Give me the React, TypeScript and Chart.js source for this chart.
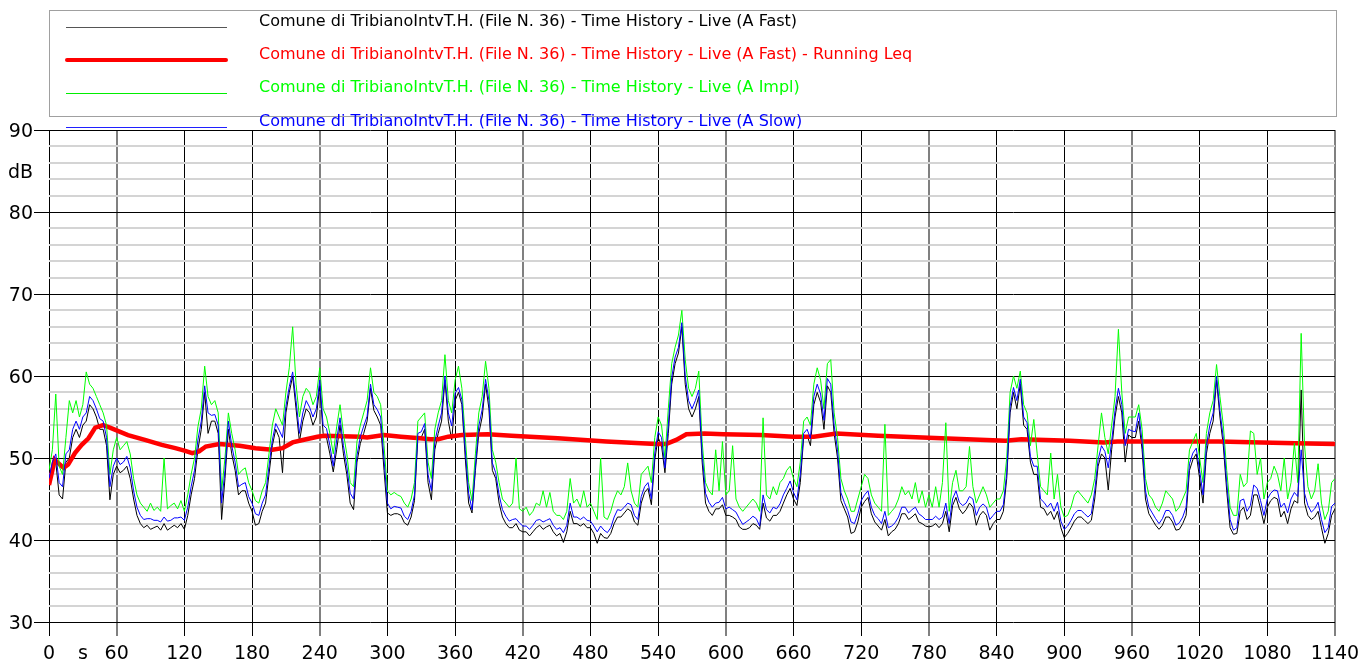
import { useEffect, useRef } from 'react';
import { Chart, registerables } from 'chart.js';

Chart.register(...registerables);

const STEP_S = 3;
const X_MAX = 1140;

const slowDb = [
  47.5, 49.5, 50.5, 47, 46.5, 50.5, 51, 53.5, 54.5, 53.5, 55, 55.5, 57.5, 57, 56, 54.8, 54.5, 52.5, 46.5, 49, 50, 49.2, 49.5, 50.2, 48.8, 46, 44, 43, 42.5, 42.6, 42.6, 42.4, 42.4, 42.2, 42.8, 42.3, 42.4,
  42.7, 42.7, 42.8, 42.4, 44, 46.5, 48.5, 52.2, 54.5, 58.8, 55.5, 55.2, 55.3, 54, 44.5, 48.5, 54.5, 51.5, 49.5, 46.5, 46.8, 47, 45.3, 44.5, 43.2, 43, 44.5, 45.5, 49, 52.2, 54.2, 53.4, 52.5, 56.3, 58.7, 60.5, 57, 53,
  55.5, 57, 56.2, 55, 56, 59.5, 54, 53.6, 51.5, 49, 52.2, 54.9, 51.5, 49, 45.7, 45, 50.3, 52.6, 53.9, 55.1, 59, 56.5, 55.9, 55, 49.8, 44.5, 43.8, 44.1, 44, 43.9, 42.9, 42.5, 43.5, 45.5, 53, 53.2, 54.2, 48,
  46, 52, 53.9, 55.5, 60, 55.5, 53.9, 57.9, 58.6, 57.1, 51, 45.7, 43.7, 49, 53.9, 55.9, 59.6, 57, 49.4, 48.2, 45.5, 43.7, 42.9, 42.3, 42.5, 42.6, 42.1, 41.7, 41.7, 41.3, 41.8, 42.4, 42.5, 42.2, 42.4, 42.6, 41.8, 41.3,
  41.5, 40.9, 41.8, 44.5, 42.8, 42.8, 42.5, 42.8, 42.4, 42.3, 41.7, 41.0, 41.7, 41.2, 40.9, 41.5, 42.8, 43.7, 43.6, 44, 44.5, 44.3, 43, 42.5, 45.3, 46.5, 47, 45, 50.6, 53.2, 52.5, 48.8, 54, 59.8, 62.3, 63.5, 66.5,
  60, 57, 56, 57, 58.3, 50.5, 45.7, 44.6, 44, 44.5, 44.6, 45.2, 43.8, 44, 43.7, 43.4, 42.6, 41.9, 42.2, 42.5, 42.9, 42.6, 41.7, 45.5, 43.7, 43.3, 44, 43.8, 44.4, 45.5, 46.3, 47.2, 45.8, 44.9, 48, 53, 53.5, 52.4, 57.5,
  59, 57.8, 54.6, 59.7, 59, 54, 51, 45.8, 44.6, 43.6, 42.2, 42.0, 43.2, 44.8, 45.5, 46, 44, 43, 42.6, 42, 43.5, 41.5, 41.7, 42.1, 42.8, 44, 44, 43.3, 43.7, 44, 43.2, 42.9, 42.5, 42.5, 42.5, 42.9, 42.5, 42.8,
  44.5, 42, 45, 46, 44.6, 44.2, 44.5, 45.3, 45, 43, 44, 44.4, 44, 42.5, 43, 43.5, 43.5, 44.3, 48.2, 56.3, 58.6, 57, 59.6, 55, 54.3, 50.2, 49, 49, 45, 44.6, 44, 44.5, 43.5, 44.6, 42.3, 41.3, 41.7,
  42.4, 43.2, 43.6, 43.6, 43.2, 42.8, 43.2, 46, 49.8, 51.5, 50.8, 48.8, 52, 55.8, 58.5, 56.5, 51.5, 53.5, 53.3, 53.2, 55.5, 52, 46, 44, 43.3, 42.6, 42, 42.6, 43.6, 43.6, 43, 41.8, 42.1, 42.8, 44, 49.3, 50.6, 51.2,
  48.5, 45.5, 51.5, 54, 55.5, 60, 55.8, 52.4, 47, 42.5, 41.2, 41.5, 44.8, 45, 43.5, 44.2, 46.7, 46.3, 44.8, 43, 45, 45.7, 46.1, 46, 44, 44.5, 43.3, 45, 45.8, 45.3, 51, 45.7, 44.2, 43.4, 43.8, 44.6, 42.5, 40.9, 41.5, 44.1, 44.5,
];

const implDb = [
  48.5, 51, 57.8, 49, 48, 52.5, 57, 55.5, 57, 55, 56.5, 60.5, 59, 58.5, 57.5, 56.5, 55.5, 54, 48, 51, 52.5, 51, 51.5, 52, 50.5, 47.5, 45.5, 44.5, 44, 43.5, 44.5, 43.6, 44, 43.5, 50, 43.8, 44.2,
  44.5, 43.8, 44.8, 43.5, 45.5, 48, 50, 53.8, 56, 61.2, 57.5, 56.5, 57, 55.5, 46, 50, 55.5, 53, 51, 48, 48.5, 48.8, 47, 46, 44.8, 44.5, 46, 47, 50.5, 54, 56, 55, 54, 58, 61, 66, 59, 55,
  57.5, 58.5, 58, 56.5, 57.5, 61, 56, 55, 53, 50.5, 53.8, 56.5, 53, 50.5, 47, 46.5, 52, 54, 55.5, 57, 61, 58, 57.5, 56.5, 51.5, 46, 45.5, 45.8, 45.5, 45.3, 44.5, 44, 45, 47, 54.5, 55, 55.5, 49.5,
  47.5, 53.5, 55.5, 57, 62.6, 57, 55.5, 59.5, 61.2, 58.5, 52.5, 47, 44.8, 50.5, 55.5, 57.5, 61.8, 58.5, 51, 49.5, 47, 45, 44.5, 44, 44.5, 50, 43.8, 43.5, 44, 43, 43.5, 44.5, 44.2, 46, 44, 45.8, 43.5, 43,
  43, 42.5, 43.5, 47.5, 44.5, 45, 44, 46, 44, 44.5, 43.5, 42.5, 50, 42.8, 42.5, 43.5, 45, 46, 45.5, 46.5, 49.4, 46, 44.5, 44, 48, 48.5, 49, 47, 52.5, 55, 54, 50, 56, 61.5, 63.5, 65, 68,
  62, 58.5, 57.5, 58.5, 60.6, 52, 47, 46, 45.5, 51, 46, 52, 45.5, 46, 51.5, 45, 44, 43.5, 44, 44.5, 45, 44.5, 43.5, 54.9, 45.5, 45, 46.5, 45.5, 47, 47.5, 48.5, 49, 47.5, 46.5, 49.5, 54.5, 55, 54, 59,
  61, 59.5, 56, 61.5, 62, 55.5, 52.5, 47.5, 46, 45, 43.5, 43.5, 45, 46.5, 48, 47.5, 45.5, 44.5, 44, 43.5, 54.1, 43, 43.5, 44, 45, 46.5, 45.5, 46, 45, 47, 44.5, 46, 44, 45.5, 44, 46.5, 44, 47,
  54.3, 43.5, 47, 48.5, 46, 46, 46.5, 51.4, 46.5, 44.5, 45.5, 46.5, 45.5, 44, 44.5, 45, 45, 46, 50, 58, 60, 58.5, 60.6, 56.5, 55.5, 51.5, 54.7, 50.5, 46.5, 46, 45.5, 50.6, 45, 48, 44, 42.8, 43,
  44, 45.5, 46, 45.5, 45, 44.5, 45.5, 47.5, 51.5, 55.5, 52.5, 50.5, 54, 57.5, 65.7, 58, 53, 55, 55, 55, 56.5, 53.5, 47.5, 45.5, 45, 44, 43.5, 44.5, 46, 45.5, 45, 43.5, 44, 45, 46, 51, 52, 53,
  50, 47, 53, 55.5, 57, 61.4, 57.5, 54, 48.5, 44, 43, 43, 48, 46.5, 47, 53.3, 53, 48, 50, 45, 47, 47.5, 49, 48, 46, 50, 45, 47, 51.8, 47, 65.2, 51.6, 46.5, 45, 46, 49.3, 44.5, 42.5, 43.5, 47, 47.5,
];

const fastDb = [
  46.8, 48.5, 49.5, 45.5, 45, 49.5, 50, 52.5, 53.5, 52.5, 54, 54.5, 56.5, 56, 55, 53.5, 53.5, 51.5, 44.9, 48, 49, 48.2, 48.5, 49, 47.5, 45, 43, 42, 41.5, 41.8, 41.3, 41.5, 41.7, 41.2, 42, 41.2, 41.5,
  41.8, 41.5, 42, 41.3, 43, 45.5, 47.5, 51, 53.5, 58, 53, 54.5, 54.5, 53, 42.5, 47.5, 53.5, 50.5, 48.5, 45.5, 46, 46, 44.5, 43.5, 41.8, 42, 43.5, 44.5, 48, 51.5, 53.5, 52.5, 48.2, 55.5, 58, 60, 56, 52,
  54.5, 56, 55.5, 54, 55, 58.8, 53, 52.5, 50.5, 48.3, 51, 54, 50.5, 48, 44.5, 43.7, 49.5, 51.8, 53, 54.5, 58.5, 55.8, 55, 54, 48.5, 43.3, 43, 43.2, 43.2, 43, 42.1, 41.8, 42.8, 44.8, 52.5, 52.5, 53.5, 47,
  44.9, 51, 53, 54.5, 59.5, 54.5, 52.2, 57, 58, 56.5, 50, 44.5, 43.3, 48.5, 53, 55, 59, 56, 48.5, 47.5, 44.5, 42.8, 42, 41.5, 41.5, 42, 41.2, 41, 41, 40.5, 41, 41.5, 41.8, 41.3, 41.6, 41.8, 41, 40.5,
  40.8, 39.7, 41, 43.5, 42, 42, 41.7, 42, 41.5, 41.5, 40.8, 39.6, 40.8, 40.3, 40.2, 40.8, 42, 42.8, 42.8, 43.3, 43.8, 43.5, 42.2, 41.8, 44.5, 45.8, 46.3, 44.3, 49.8, 52.5, 51.5, 48.2, 53, 59, 61.5, 62.8, 66,
  59, 56, 55, 56, 57.5, 49.5, 44.5, 43.5, 43, 43.8, 43.8, 44.3, 43, 43, 42.8, 42.5, 41.6, 41.3, 41.3, 41.5, 42, 41.8, 41.3, 44.5, 42.7, 42.3, 43, 43, 43.5, 44.5, 45.5, 46.3, 45, 44.2, 47, 52.5, 52.8, 51.5, 56.5,
  58, 56.8, 53.5, 58.8, 58, 53, 50, 44.8, 43.8, 42.8, 40.8, 41, 42.2, 44, 44.7, 45.2, 43.2, 42.2, 41.7, 41.2, 42.5, 40.5, 41, 41.3, 42, 43.2, 43.2, 42.5, 42.8, 43.2, 42.2, 42, 41.7, 41.6, 41.7, 42, 41.5, 42,
  43.5, 41, 44.2, 45.2, 43.8, 43.2, 43.7, 44.5, 44, 41.8, 43, 43.5, 43, 41.2, 42, 42.5, 42.5, 43.5, 47.5, 55.5, 58, 56, 59, 54, 53.5, 49.5, 48, 48, 44, 43.8, 43, 43.5, 42.5, 43.5, 41.5, 40.3, 40.8,
  41.5, 42.3, 42.8, 42.8, 42.4, 42, 42.4, 45, 49, 50.5, 50, 46.1, 51, 55, 57.5, 55.5, 49.5, 52.8, 52.5, 52.5, 54.5, 51, 45, 43.2, 42.5, 41.8, 41.3, 41.8, 42.8, 42.8, 42.2, 41.2, 41.3, 42, 43, 48.5, 49.8, 50.5,
  47.5, 44.5, 50.5, 53, 54.5, 59.5, 55, 51.5, 46, 41.5, 40.7, 40.8, 43.5, 44, 42.5, 43, 45.5, 45.5, 43.8, 42, 44, 44.8, 45.2, 45, 42.8, 43.5, 42, 43.8, 44.8, 44.5, 58.3, 44.5, 43, 42.5, 42.8, 43.5, 41.5, 39.6, 40.8, 43, 43.8,
];

const leqTimes = [0, 3, 5, 8, 13, 17, 23, 29, 35, 41, 48, 54, 70, 85, 100, 112, 120, 127, 133, 139, 151, 169, 183, 198, 207, 216, 225, 238, 244, 276, 282, 297, 312, 329, 338, 345, 354, 366, 389, 410, 451, 494, 538, 547, 556, 565, 581, 598, 631, 660, 678, 698, 735, 791, 848, 862, 905, 935, 947, 1018, 1037, 1075, 1105, 1140];
const leqDb = [46.7, 48.5, 49.8, 49.4, 48.8, 49.2, 50.6, 51.6, 52.4, 53.7, 54.0, 53.7, 52.8, 52.2, 51.6, 51.2, 50.9, 50.6, 50.8, 51.4, 51.7, 51.5, 51.2, 51.0, 51.2, 51.9, 52.2, 52.6, 52.7, 52.6, 52.5, 52.8, 52.6, 52.4, 52.3, 52.3, 52.6, 52.8, 52.9, 52.7, 52.4, 52.0, 51.7, 51.7, 52.2, 52.9, 53.0, 52.9, 52.8, 52.6, 52.6, 53.0, 52.7, 52.4, 52.1, 52.3, 52.1, 51.9, 52.0, 52.0, 52.0, 51.9, 51.8, 51.7];

const xTickValues = Array.from({ length: X_MAX / 30 + 1 }, (_, i) => i * 30);
const yTickValues = [30, 32, 34, 36, 38, 40, 42, 44, 46, 48, 50, 52, 54, 56, 58, 60, 62, 64, 66, 68, 70, 72, 74, 76, 78, 80, 82, 84, 85, 86, 88, 90];

const BASE = 'Comune di TribianoIntvT.H. (File N. 36) - Time History - Live';
const seriesLabels = [
  BASE + ' (A Fast)',
  BASE + ' (A Fast) - Running Leq',
  BASE + ' (A Impl)',
  BASE + ' (A Slow)',
];
const seriesColors = ['#000000', '#ff0000', '#00ff00', '#0000ff'];
const legendLineColors = ['#555555', '#ff0000', '#00ee00', '#2020ff'];

const FONT = '"DejaVu Sans", Verdana, sans-serif';

const boxLegend = {
  id: 'boxLegend',
  afterDraw(chart: any) {
    const ctx = chart.ctx as CanvasRenderingContext2D;
    ctx.save();
    ctx.strokeStyle = '#a0a0a0';
    ctx.lineWidth = 1;
    ctx.strokeRect(49.5, 10.5, 1287, 106);
    ctx.font = '16px ' + FONT;
    ctx.textBaseline = 'middle';
    ctx.textAlign = 'left';
    seriesLabels.forEach((label, i) => {
      const ty = 21.5 + i * 33.4;
      const ly = Math.round(ty + 5);
      ctx.fillStyle = legendLineColors[i];
      if (i === 1) {
        ctx.strokeStyle = legendLineColors[i];
        ctx.lineWidth = 4;
        ctx.lineCap = 'round';
        ctx.beginPath();
        ctx.moveTo(67, ly);
        ctx.lineTo(226, ly);
        ctx.stroke();
      } else {
        ctx.fillRect(66, ly, 161, 1);
      }
      ctx.fillStyle = seriesColors[i];
      ctx.fillText(label, 259, ty);
    });
    ctx.restore();
  },
};

export default function App() {
  const ref = useRef<HTMLCanvasElement | null>(null);

  useEffect(() => {
    if (!ref.current) return;
    const times = slowDb.map((_, i) => i * STEP_S);
    const mk = (vals: number[]) => times.map((t, i) => ({ x: t, y: vals[i] }));
    const chart = new Chart(ref.current, {
      type: 'line',
      data: {
        datasets: [
          { label: seriesLabels[0], data: mk(fastDb), borderColor: seriesColors[0], borderWidth: 1, order: 4 },
          { label: seriesLabels[1], data: leqTimes.map((t, i) => ({ x: t, y: leqDb[i] })), borderColor: seriesColors[1], borderWidth: 4.5, order: 3 },
          { label: seriesLabels[2], data: mk(implDb), borderColor: seriesColors[2], borderWidth: 1, order: 2 },
          { label: seriesLabels[3], data: mk(slowDb), borderColor: seriesColors[3], borderWidth: 1, order: 1 },
        ] as any,
      },
      options: {
        animation: false,
        responsive: false,
        devicePixelRatio: 1,
        layout: { padding: { top: 130, right: 25, left: 0, bottom: 0 } },
        elements: { point: { radius: 0 }, line: { tension: 0, fill: false } },
        plugins: { legend: { display: false }, tooltip: { enabled: false } },
        scales: {
          x: {
            type: 'linear',
            min: 0,
            max: X_MAX,
            afterBuildTicks: (s: any) => { s.ticks = xTickValues.map((v) => ({ value: v })); },
            afterFit: (s: any) => { s.height = 41; s.paddingLeft = 0; s.paddingRight = 0; },
            border: { display: false },
            grid: {
              color: (c: any) => { const v = c.tick.value; return v % 60 !== 0 ? 'transparent' : v % 180 === 60 ? '#808080' : '#000000'; },
              lineWidth: (c: any) => (c.tick.value % 180 === 60 ? 2 : 1),
              tickColor: (c: any) => { const v = c.tick.value; return v % 60 !== 0 ? 'transparent' : v % 180 === 60 ? '#808080' : '#000000'; },
              tickLength: 14,
            },
            ticks: {
              autoSkip: false,
              maxRotation: 0,
              minRotation: 0,
              padding: 7,
              color: '#000',
              font: { family: FONT, size: 19 },
              callback: (v: any) => (v % 60 === 0 ? String(v) : v === 30 ? 's' : ''),
            },
          },
          y: {
            type: 'linear',
            min: 30,
            max: 90,
            afterBuildTicks: (s: any) => { s.ticks = yTickValues.map((v) => ({ value: v })); },
            afterFit: (s: any) => { s.width = 49; s.paddingTop = 0; s.paddingBottom = 0; },
            border: { display: false },
            grid: {
              color: (c: any) => { const v = c.tick.value; return v % 10 === 0 ? '#000000' : v === 85 ? 'transparent' : '#d4d4d4'; },
              lineWidth: (c: any) => (c.tick.value % 10 === 0 ? 1 : 2),
              tickColor: (c: any) => (c.tick.value % 10 === 0 ? '#000000' : 'transparent'),
              tickLength: 15,
            },
            ticks: {
              autoSkip: false,
              padding: 1,
              labelOffset: 2,
              color: '#000',
              font: { family: FONT, size: 19 },
              callback: (v: any) => (v % 10 === 0 ? String(v) : v === 85 ? 'dB' : ''),
            },
          },
        },
      } as any,
      plugins: [boxLegend],
    });
    return () => chart.destroy();
  }, []);

  return (
    <div style={{ position: 'fixed', left: 0, top: 0, width: 1360, height: 663, background: '#fff' }}>
      <canvas ref={ref} width={1360} height={663} style={{ width: 1360, height: 663, display: 'block' }} />
    </div>
  );
}
